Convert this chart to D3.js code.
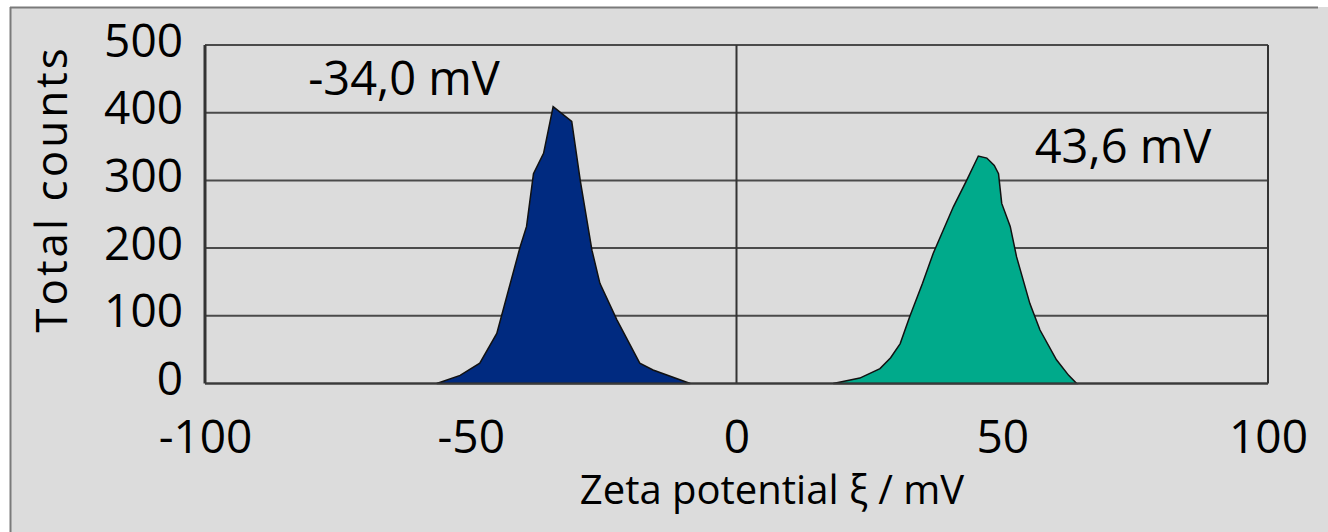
<!DOCTYPE html>
<html><head><meta charset="utf-8">
<script src="https://cdn.jsdelivr.net/npm/d3@7"></script>
<style>html,body{margin:0;padding:0;background:#fff;}svg{display:block;}</style>
</head><body>
<svg id="chart" width="1328" height="532"></svg>
<script>
// Data
const negX = [-56.4, -52.0, -48.3, -45.1, -40.7, -39.5, -38.2, -36.3, -34.5, -31.0, -29.4, -27.2, -25.7, -22.5, -18.2, -15.7, -8.7];
const negY = [0, 12, 30, 74, 202, 232, 310, 340, 409, 387, 300, 197, 148, 94, 30, 20, 0];
const posX = [18.2, 23.2, 27.0, 29.0, 30.8, 32.6, 35.0, 37.0, 40.8, 43.3, 45.5, 47.1, 48.5, 49.3, 49.9, 51.5, 52.7, 55.2, 57.1, 60.2, 62.5, 64.0];
const posY = [0, 8, 22, 38, 59, 99, 148, 192, 261, 300, 336, 333, 322, 310, 266, 232, 187, 118, 79, 35, 12, 0];
const xTicks = [-100, -50, 0, 50, 100];
const yTicks = [0, 100, 200, 300, 400, 500];
const labels = [{text: "-34,0 mV"}, {text: "43,6 mV"}];
const xTitle = "Zeta potential ξ / mV";
const yTitle = "Total counts";

const svg = d3.select("#chart");
const W = 1328, H = 532;
const font = "'Open Sans', 'Noto Sans', sans-serif";

svg.append("rect").attr("x", 10).attr("y", 7).attr("width", W - 10).attr("height", H - 7).attr("fill", "#dcdcdc");
svg.append("line").attr("x1", 10).attr("x2", 1318).attr("y1", 7.5).attr("y2", 7.5).attr("stroke", "#7a7a7a").attr("stroke-width", 2);
svg.append("line").attr("x1", 10.5).attr("x2", 10.5).attr("y1", 7).attr("y2", H).attr("stroke", "#7a7a7a").attr("stroke-width", 2);

const x = d3.scaleLinear().domain([-100, 100]).range([205, 1268]);
const y = d3.scaleLinear().domain([0, 500]).range([383.5, 45]);

const g = svg.append("g");
g.selectAll("line.grid").data(yTicks).join("line")
  .attr("x1", x(-100)).attr("x2", x(100))
  .attr("y1", d => y(d)).attr("y2", d => y(d))
  .attr("stroke", "#4a4a4a").attr("stroke-width", 2);
[-100, 0, 100].forEach(v => {
  g.append("line").attr("x1", x(v)).attr("x2", x(v)).attr("y1", y(500)).attr("y2", y(0))
    .attr("stroke", "#333").attr("stroke-width", v === -100 ? 3 : 2);
});

const area = d3.area().x(d => x(d[0])).y0(y(0)).y1(d => y(d[1])).curve(d3.curveLinear);
const negData = negX.map((v, i) => [v, negY[i]]);
const posData = posX.map((v, i) => [v, posY[i]]);
svg.append("path").datum(negData).attr("d", area).attr("fill", "#002a80").attr("stroke", "#111").attr("stroke-width", 1.5);
svg.append("path").datum(posData).attr("d", area).attr("fill", "#00aa8b").attr("stroke", "#111").attr("stroke-width", 1.5);
svg.append("line").attr("x1", x(-100)).attr("x2", x(100)).attr("y1", y(0)).attr("y2", y(0)).attr("stroke", "#3a3a3a").attr("stroke-width", 2);

const tickFmt = d => String(d);
const fsTick = 46;
const xAxis = svg.append("g").attr("transform", `translate(0,${y(0)})`)
  .call(d3.axisBottom(x).tickValues(xTicks).tickSize(0).tickPadding(0).tickFormat(tickFmt));
xAxis.select(".domain").remove();
xAxis.selectAll("text").attr("dy", null).attr("y", 69).attr("font-size", fsTick).attr("font-family", font).attr("fill", "#000");

const yAxis = svg.append("g").attr("transform", `translate(${x(-100)},0)`)
  .call(d3.axisLeft(y).tickValues(yTicks).tickSize(0).tickPadding(0).tickFormat(tickFmt));
yAxis.select(".domain").remove();
yAxis.selectAll("text").attr("dy", null).attr("x", -22).attr("y", 11).attr("font-size", fsTick).attr("font-family", font).attr("fill", "#000");

svg.append("text").attr("x", 772).attr("y", 504).attr("text-anchor", "middle")
  .attr("font-size", 40).attr("font-family", font).text(xTitle);
svg.append("text").attr("transform", "translate(67,189) rotate(-90)").attr("text-anchor", "middle")
  .attr("font-size", 44).attr("letter-spacing", 3).attr("font-family", font).text(yTitle);

svg.append("text").attr("x", 404).attr("y", 95).attr("text-anchor", "middle")
  .attr("font-size", 47).attr("font-family", font).text(labels[0].text);
svg.append("text").attr("x", 1123).attr("y", 163).attr("text-anchor", "middle")
  .attr("font-size", 47).attr("font-family", font).text(labels[1].text);
</script>
</body></html>
